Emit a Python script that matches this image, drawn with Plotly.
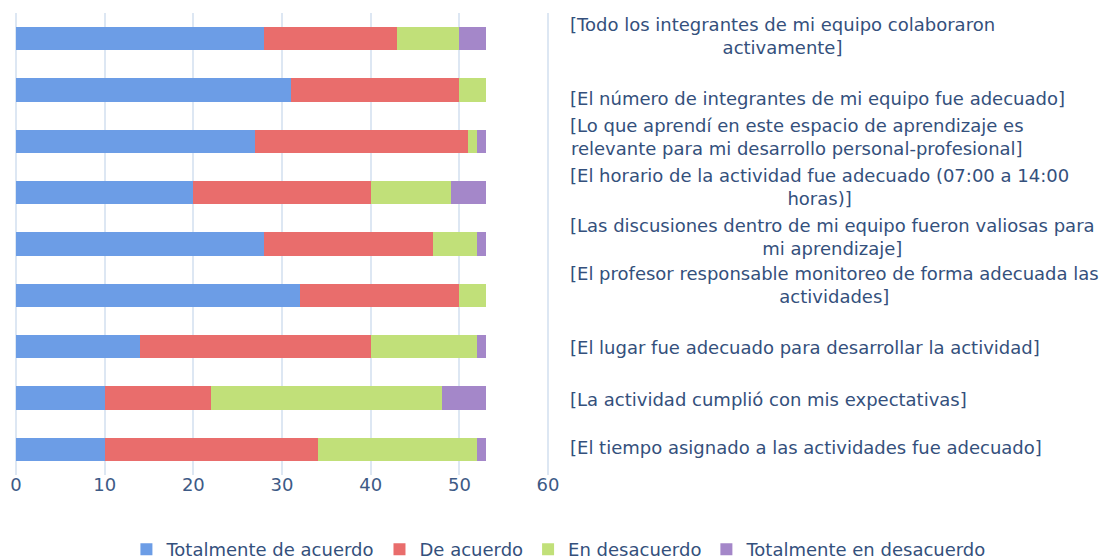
import plotly.graph_objects as go

categories = [
    "[Todo los integrantes de mi equipo colaboraron<br>activamente]",
    "[El número de integrantes de mi equipo fue adecuado]",
    "[Lo que aprendí en este espacio de aprendizaje es<br>relevante para mi desarrollo personal-profesional]",
    "[El horario de la actividad fue adecuado (07:00 a 14:00<br>horas)]",
    "[Las discusiones dentro de mi equipo fueron valiosas para<br>mi aprendizaje]",
    "[El profesor responsable monitoreo de forma adecuada las<br>actividades]",
    "[El lugar fue adecuado para desarrollar la actividad]",
    "[La actividad cumplió con mis expectativas]",
    "[El tiempo asignado a las actividades fue adecuado]",
]
totalmente_de_acuerdo = [28, 31, 27, 20, 28, 32, 14, 10, 10]
de_acuerdo = [15, 19, 24, 20, 19, 18, 26, 12, 24]
en_desacuerdo = [7, 3, 1, 9, 5, 3, 12, 26, 18]
totalmente_en_desacuerdo = [3, 0, 1, 4, 1, 0, 1, 5, 1]

series_names = ["Totalmente de acuerdo", "De acuerdo", "En desacuerdo", "Totalmente en desacuerdo"]
series_values = [totalmente_de_acuerdo, de_acuerdo, en_desacuerdo, totalmente_en_desacuerdo]
colors = ["#6c9de6", "#e96d6c", "#c1e079", "#a487c9"]

# small vertical nudges (px) of the category labels, as in the original layout
label_nudge = [3, -8, 4, 6, 7, 10, -1, -1, 2]

FONT = "DejaVu Sans"
TEXT_COLOR = "#34507c"

fig = go.Figure()
for name, vals, c in zip(series_names, series_values, colors):
    fig.add_trace(go.Bar(
        y=categories, x=vals, name=name, orientation="h",
        marker=dict(color=c, line=dict(width=0)),
        hoverinfo="x+name",
    ))

for cat, dy in zip(categories, label_nudge):
    fig.add_annotation(
        x=0.4982, xref="paper", y=cat, yref="y", yshift=dy,
        text=cat, showarrow=False, xanchor="left", yanchor="middle",
        align="center", font=dict(family=FONT, size=18, color=TEXT_COLOR),
    )

fig.update_layout(
    width=1116, height=560,
    barmode="stack", bargap=0.55,
    paper_bgcolor="white", plot_bgcolor="white",
    margin=dict(l=8, r=0, t=5, b=92),
    font=dict(family=FONT, size=18, color=TEXT_COLOR),
    showlegend=True,
    legend=dict(
        orientation="h", x=0.49, xanchor="center", y=-0.16, yanchor="middle",
        font=dict(family=FONT, size=18, color=TEXT_COLOR),
        itemwidth=30, traceorder="normal",
    ),
    xaxis=dict(
        domain=[0, 0.4826], range=[0, 60.3], dtick=10, automargin=False,
        showgrid=True, gridcolor="#dde7f3", gridwidth=1.5,
        zeroline=True, zerolinecolor="#dde7f3", zerolinewidth=1.5,
        showline=False, ticks="", ticklabelstandoff=-3,
        tickfont=dict(family=FONT, size=18, color="#3d5a86"),
    ),
    yaxis=dict(
        autorange="reversed", showticklabels=False, showgrid=False,
        zeroline=False, ticks="", automargin=False,
    ),
)

fig.write_html("out.html")
